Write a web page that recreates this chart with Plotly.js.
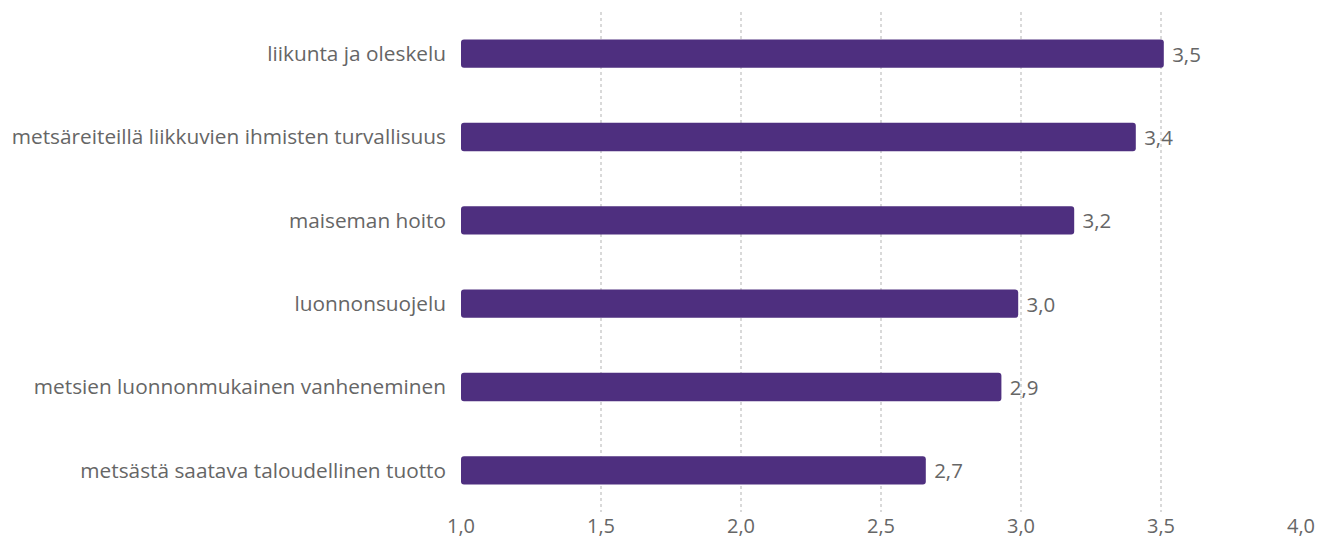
<!DOCTYPE html>
<html>
<head>
<meta charset="utf-8">
<script src="https://cdn.plot.ly/plotly-3.0.1.min.js"></script>
<style>html,body{margin:0;padding:0;background:#fff;}#chart{width:1318px;height:542px;}</style>
</head>
<body>
<div id="chart"></div>
<script>
const categories = [
  "liikunta ja oleskelu",
  "metsäreiteillä liikkuvien ihmisten turvallisuus",
  "maiseman hoito",
  "luonnonsuojelu",
  "metsien luonnonmukainen vanheneminen",
  "metsästä saatava taloudellinen tuotto"
];
const values = [3.51, 3.41, 3.19, 2.99, 2.93, 2.66];
const tickValues = [1.0, 1.5, 2.0, 2.5, 3.0, 3.5, 4.0];
const axisStart = 1;

const fmt = v => v.toFixed(1).replace(".", ",");

const trace = {
  type: "bar",
  orientation: "h",
  y: categories,
  x: values.map(v => v - axisStart),
  base: axisStart,
  marker: { color: "#4e2f7f", cornerradius: 3 },
  width: 0.34,
  text: values.map(v => "\u00a0" + fmt(v)),
  texttemplate: "%{text}",
  textposition: "outside",
  cliponaxis: false,
  textfont: { family: "Open Sans", size: 20.5, color: "#666666" },
  hoverinfo: "none"
};

const layout = {
  width: 1318,
  height: 542,
  margin: { l: 461, r: 17, t: 12, b: 30 },
  paper_bgcolor: "#ffffff",
  plot_bgcolor: "#ffffff",
  showlegend: false,
  font: { family: "Open Sans", color: "#666666", size: 20.5 },
  xaxis: {
    range: [1, 4],
    tickvals: tickValues,
    ticktext: tickValues.map(fmt),
    showgrid: true,
    gridcolor: "#d9d9d9",
    griddash: "dot",
    gridwidth: 2,
    zeroline: false,
    showline: false,
    ticks: "",
    tickfont: { family: "Open Sans", size: 20, color: "#666666" },
    fixedrange: true
  },
  yaxis: {
    autorange: "reversed",
    showgrid: false,
    zeroline: false,
    showline: false,
    ticks: "",
    ticklabelstandoff: 14,
    tickfont: { family: "Open Sans", size: 20.8, color: "#666666" },
    fixedrange: true
  }
};

Plotly.newPlot("chart", [trace], layout, { displayModeBar: false, staticPlot: true });
</script>
</body>
</html>
